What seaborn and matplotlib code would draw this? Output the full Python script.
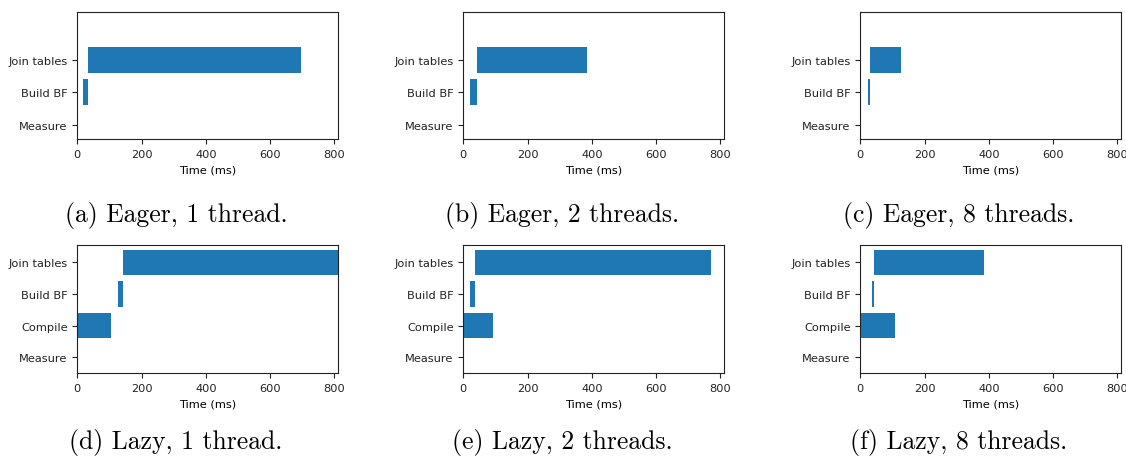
import matplotlib
matplotlib.use("Agg")
import matplotlib.pyplot as plt
import seaborn as sns
import pandas as pd

# ---- data (ms) ----
eager_tasks = ["Join tables", "Build BF", "Measure"]
lazy_tasks = ["Join tables", "Build BF", "Compile", "Measure"]

a_start = [34, 19, 0]
a_end = [696, 34, 0]
b_start = [43, 22, 0]
b_end = [384, 43, 0]
c_start = [31, 25, 0]
c_end = [126, 31, 0]

d_start = [143, 125, 0, 0]
d_end = [860, 143, 104, 0]
e_start = [36, 21, 0, 0]
e_end = [769, 36, 93, 0]
f_start = [43, 35, 0, 0]
f_end = [385, 43, 107, 0]

captions = ["(a) Eager, 1 thread.", "(b) Eager, 2 threads.", "(c) Eager, 8 threads.",
            "(d) Lazy, 1 thread.", "(e) Lazy, 2 threads.", "(f) Lazy, 8 threads."]
x_ticks = [0, 200, 400, 600, 800]
x_label = "Time (ms)"

panels = [
    (eager_tasks, a_start, a_end),
    (eager_tasks, b_start, b_end),
    (eager_tasks, c_start, c_end),
    (lazy_tasks, d_start, d_end),
    (lazy_tasks, e_start, e_end),
    (lazy_tasks, f_start, f_end),
]

plt.rcParams["font.size"] = 8.2
fig = plt.figure(figsize=(11.26, 4.6), dpi=100)

lefts = [0.0687, 0.4115, 0.764]
width = 0.2312
row_bottoms = [0.6957, 0.187]
row_heights = [0.2754, 0.278]
cap_x = [0.1563, 0.4996, 0.8510]
cap_y = [0.5326, 0.037]

blue = "#1f77b4"
for i, (tasks, starts, ends) in enumerate(panels):
    r, c = divmod(i, 3)
    ax = fig.add_axes([lefts[c], row_bottoms[r], width, row_heights[r]])
    df = pd.DataFrame({"task": tasks, "start": starts, "end": ends})
    sns.barplot(data=df, x="end", y="task", order=tasks, color=blue,
                saturation=1, width=0.8, ax=ax, errorbar=None)
    sns.barplot(data=df, x="start", y="task", order=tasks, color="white",
                saturation=1, width=0.8, ax=ax, errorbar=None)
    ax.set_xlim(0, 810)
    ax.set_xticks(x_ticks)
    ax.set_xlabel(x_label)
    ax.set_ylabel("")
    if r == 0:
        ax.set_ylim(2.44, -1.47)
    else:
        ax.set_ylim(3.5, -0.55)
    ax.tick_params(colors="#222222", labelcolor="#222222")
    for s in ax.spines.values():
        s.set_color("#222222")
        s.set_linewidth(0.8)
    fig.text(cap_x[c], cap_y[r], captions[i], ha="center", va="center",
             fontsize=18.5, family=["cmr10", "DejaVu Serif"])

fig.savefig("out.png", dpi=100)
